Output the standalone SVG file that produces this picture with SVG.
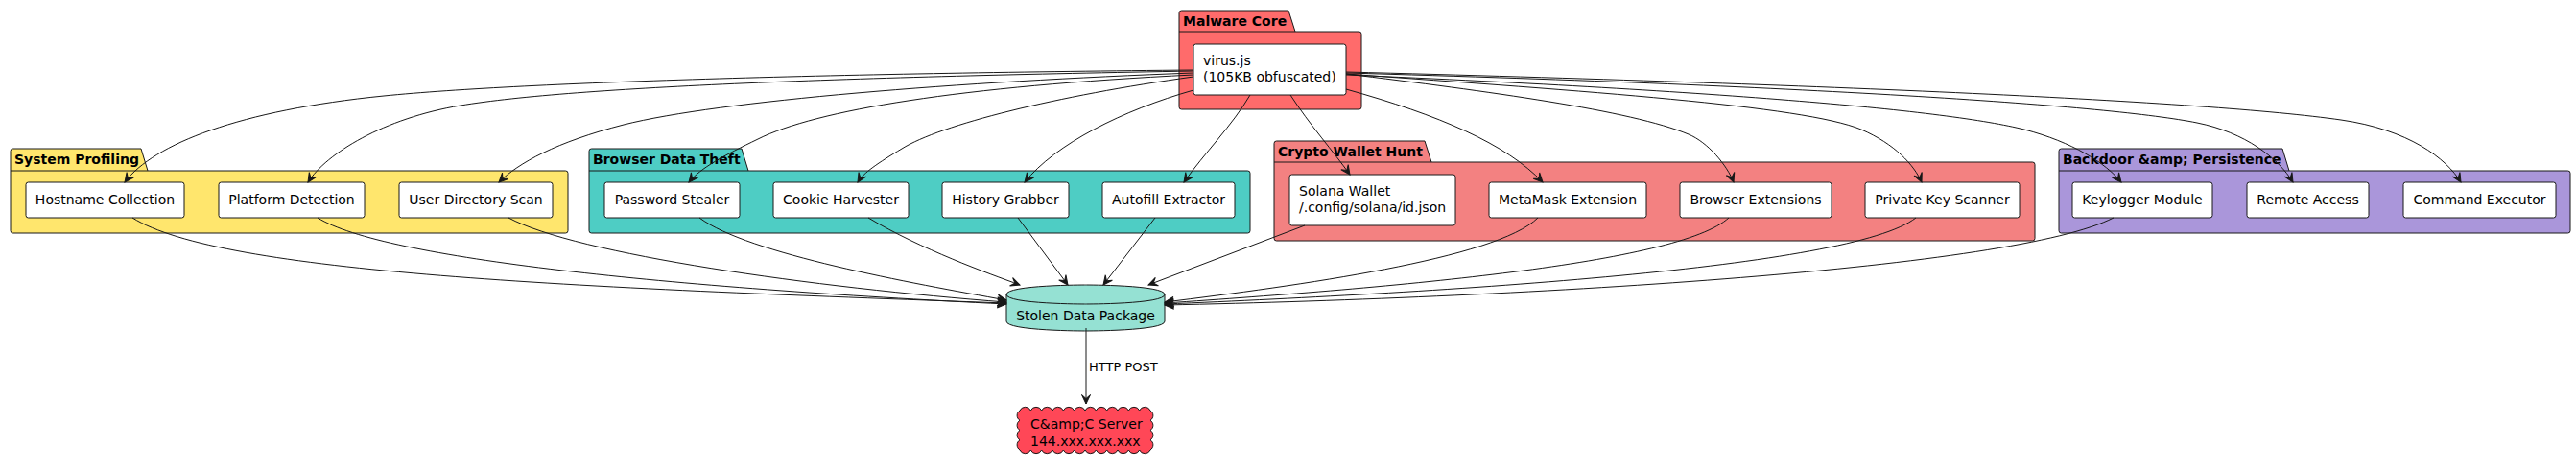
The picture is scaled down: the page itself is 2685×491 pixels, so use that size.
<svg xmlns="http://www.w3.org/2000/svg" width="2685" height="491" viewBox="0 0 2685 491">
<style>
text { font-family: "DejaVu Sans", "Liberation Sans", sans-serif; fill: #000000; }
.t { font-size: 14px; }
.c { text-anchor: middle; }
.pt { font-size: 14px; font-weight: bold; }
.lbl { font-size: 13px; }
.node { fill: #FFFFFF; stroke: #181818; stroke-width: 1; }
.pkg { stroke: #181818; stroke-width: 1; }
.sep { stroke: #181818; stroke-width: 1; }
.edge { fill: none; stroke: #181818; stroke-width: 1; marker-end: url(#ah); }
</style>
<defs>
<marker id="ah" viewBox="-11 -6 12 12" refX="0" refY="0" markerWidth="12" markerHeight="12" markerUnits="userSpaceOnUse" orient="auto" overflow="visible">
<path d="M0,0 L-9.5,-4.5 L-5.5,0 L-9.5,4.5 Z" fill="#181818" stroke="#181818" stroke-width="1"/>
</marker>
</defs>
<rect x="0" y="0" width="2685" height="491" fill="#FFFFFF"/>

<g id="pkg-malware-core">
<path class="pkg" fill="#FF6B6B" d="M1229,13.5 Q1229,11 1231.5,11 L1343,11 L1350,33 L1416.5,33 Q1419,33 1419,35.5 L1419,111.5 Q1419,114 1416.5,114 L1231.5,114 Q1229,114 1229,111.5 Z"/>
<line class="sep" x1="1229" y1="33" x2="1350" y2="33"/>
<text class="pt" x="1233" y="27">Malware Core</text>
</g>
<g id="node-virus">
<rect class="node" x="1244" y="46" width="159" height="53" rx="2.5"/>
<text class="t" x="1254" y="68">virus.js</text>
<text class="t" x="1254" y="84.5">(105KB obfuscated)</text>
</g>

<g id="pkg-system-profiling">
<path class="pkg" fill="#FFE66D" d="M11,157.5 Q11,155 13.5,155 L147,155 L154,178 L589.5,178 Q592,178 592,180.5 L592,240.5 Q592,243 589.5,243 L13.5,243 Q11,243 11,240.5 Z"/>
<line class="sep" x1="11" y1="178" x2="154" y2="178"/>
<text class="pt" x="15" y="171">System Profiling</text>
</g>
<g id="node-hostname">
<rect class="node" x="27" y="190" width="165" height="37" rx="2.5"/>
<text class="t c" x="109.5" y="213">Hostname Collection</text>
</g>
<g id="node-platform">
<rect class="node" x="228" y="190" width="152" height="37" rx="2.5"/>
<text class="t c" x="304" y="213">Platform Detection</text>
</g>
<g id="node-userdir">
<rect class="node" x="416" y="190" width="160" height="37" rx="2.5"/>
<text class="t c" x="496" y="213">User Directory Scan</text>
</g>

<g id="pkg-browser-data-theft">
<path class="pkg" fill="#4ECDC4" d="M614,157.5 Q614,155 616.5,155 L773,155 L780,178 L1300.5,178 Q1303,178 1303,180.5 L1303,240.5 Q1303,243 1300.5,243 L616.5,243 Q614,243 614,240.5 Z"/>
<line class="sep" x1="614" y1="178" x2="780" y2="178"/>
<text class="pt" x="618" y="171">Browser Data Theft</text>
</g>
<g id="node-password">
<rect class="node" x="630" y="190" width="141" height="37" rx="2.5"/>
<text class="t c" x="700.5" y="213">Password Stealer</text>
</g>
<g id="node-cookie">
<rect class="node" x="806" y="190" width="141" height="37" rx="2.5"/>
<text class="t c" x="876.5" y="213">Cookie Harvester</text>
</g>
<g id="node-history">
<rect class="node" x="982" y="190" width="132" height="37" rx="2.5"/>
<text class="t c" x="1048" y="213">History Grabber</text>
</g>
<g id="node-autofill">
<rect class="node" x="1149" y="190" width="138" height="37" rx="2.5"/>
<text class="t c" x="1218" y="213">Autofill Extractor</text>
</g>

<g id="pkg-crypto-wallet-hunt">
<path class="pkg" fill="#F38181" d="M1328,149.5 Q1328,147 1330.5,147 L1485,147 L1492,169 L2118.5,169 Q2121,169 2121,171.5 L2121,248.5 Q2121,251 2118.5,251 L1330.5,251 Q1328,251 1328,248.5 Z"/>
<line class="sep" x1="1328" y1="169" x2="1492" y2="169"/>
<text class="pt" x="1332" y="163">Crypto Wallet Hunt</text>
</g>
<g id="node-solana">
<rect class="node" x="1344" y="182" width="173" height="53" rx="2.5"/>
<text class="t" x="1354" y="204">Solana Wallet</text>
<text class="t" x="1354" y="220.5">/.config/solana/id.json</text>
</g>
<g id="node-metamask">
<rect class="node" x="1552" y="190" width="164" height="37" rx="2.5"/>
<text class="t c" x="1634" y="213">MetaMask Extension</text>
</g>
<g id="node-browserext">
<rect class="node" x="1751" y="190" width="158" height="37" rx="2.5"/>
<text class="t c" x="1830" y="213">Browser Extensions</text>
</g>
<g id="node-pks">
<rect class="node" x="1944" y="190" width="161" height="37" rx="2.5"/>
<text class="t c" x="2024.5" y="213">Private Key Scanner</text>
</g>

<g id="pkg-backdoor">
<path class="pkg" fill="#AA96DA" d="M2146,157.5 Q2146,155 2148.5,155 L2379,155 L2386,178 L2676.5,178 Q2679,178 2679,180.5 L2679,240.5 Q2679,243 2676.5,243 L2148.5,243 Q2146,243 2146,240.5 Z"/>
<line class="sep" x1="2146" y1="178" x2="2386" y2="178"/>
<text class="pt" x="2150" y="171">Backdoor &amp;amp; Persistence</text>
</g>
<g id="node-keylogger">
<rect class="node" x="2160" y="190" width="146" height="37" rx="2.5"/>
<text class="t c" x="2233" y="213">Keylogger Module</text>
</g>
<g id="node-remote">
<rect class="node" x="2342" y="190" width="127" height="37" rx="2.5"/>
<text class="t c" x="2405.5" y="213">Remote Access</text>
</g>
<g id="node-command">
<rect class="node" x="2505" y="190" width="159" height="37" rx="2.5"/>
<text class="t c" x="2584.5" y="213">Command Executor</text>
</g>

<g id="node-stolen-data">
<path fill="#95E1D3" stroke="#181818" stroke-width="1" d="M1049,307 C1049,297 1131.5,297 1131.5,297 C1131.5,297 1214,297 1214,307 L1214,335 C1214,345 1131.5,345 1131.5,345 C1131.5,345 1049,345 1049,335 L1049,307 Z"/>
<path fill="none" stroke="#181818" stroke-width="1" d="M1049,307 C1049,317 1131.5,317 1131.5,317 C1131.5,317 1214,317 1214,307"/>
<text class="t c" x="1131.5" y="334">Stolen Data Package</text>
</g>

<g id="node-cc-server">
<path fill="#FF4757" stroke="#181818" stroke-width="1" d="M1063,428 a6.2,6.2 0 0 1 11.333,0 a6.2,6.2 0 0 1 11.333,0 a6.2,6.2 0 0 1 11.333,0 a6.2,6.2 0 0 1 11.333,0 a6.2,6.2 0 0 1 11.333,0 a6.2,6.2 0 0 1 11.333,0 a6.2,6.2 0 0 1 11.333,0 a6.2,6.2 0 0 1 11.333,0 a6.2,6.2 0 0 1 11.333,0 a6.2,6.2 0 0 1 11.333,0 a6.2,6.2 0 0 1 11.333,0 a6.2,6.2 0 0 1 11.334,0 a6,6 0 0 1 0,10.25 a6,6 0 0 1 0,10.25 a6,6 0 0 1 0,10.25 a6,6 0 0 1 0,10.25 a6.2,6.2 0 0 1 -11.333,0 a6.2,6.2 0 0 1 -11.333,0 a6.2,6.2 0 0 1 -11.333,0 a6.2,6.2 0 0 1 -11.333,0 a6.2,6.2 0 0 1 -11.333,0 a6.2,6.2 0 0 1 -11.333,0 a6.2,6.2 0 0 1 -11.333,0 a6.2,6.2 0 0 1 -11.333,0 a6.2,6.2 0 0 1 -11.333,0 a6.2,6.2 0 0 1 -11.333,0 a6.2,6.2 0 0 1 -11.333,0 a6.2,6.2 0 0 1 -11.334,0 a6,6 0 0 1 0,-10.25 a6,6 0 0 1 0,-10.25 a6,6 0 0 1 0,-10.25 a6,6 0 0 1 0,-10.25 Z"/>
<text class="t" x="1074" y="447">C&amp;amp;C Server</text>
<text class="t" x="1074" y="465">144.xxx.xxx.xxx</text>
</g>

<g id="connectors">
<path class="edge" d="M1244,73 C900,76 550,85 400,100 C250,115 160,150 130,190"/>
<path class="edge" d="M1244,74 C900,80 600,90 480,110 C400,123.3 340,160 321,190"/>
<path class="edge" d="M1244,76 C1000,85 750,105 650,130 C580,148 540,170 520,190"/>
<path class="edge" d="M1244,78 C1000,90 850,115 790,145 C755,162 730,175 718,190"/>
<path class="edge" d="M1244,80 C1100,100 980,130 940,155 C915,170 900,180 894,190"/>
<path class="edge" d="M1244,94 C1170,115 1100,150 1068,190"/>
<path class="edge" d="M1303,99 C1285,130 1255,160 1234,190"/>
<path class="edge" d="M1345,99 C1365,130 1390,158 1407,182"/>
<path class="edge" d="M1403,93 C1500,120 1570,150 1608,190"/>
<path class="edge" d="M1403,77 C1550,95 1700,115 1760,140 C1780,148.3 1800,172 1807,190"/>
<path class="edge" d="M1403,77 C1650,95 1880,110 1940,135 C1975,150 1995,172 2003,190"/>
<path class="edge" d="M1403,78 C1800,95 2030,115 2110,135 C2160,148 2195,170 2211,190"/>
<path class="edge" d="M1403,76 C1900,90 2200,110 2290,128 C2340,138 2375,165 2390,190"/>
<path class="edge" d="M1403,75 C1900,88 2300,105 2440,125 C2510,135 2550,165 2565,190"/>
<path class="edge" d="M138,227 C230,285 600,300 1049,316"/>
<path class="edge" d="M331,227 C400,270 700,300 1049,317"/>
<path class="edge" d="M530,227 C600,265 850,300 1049,315"/>
<path class="edge" d="M729,227 C780,265 950,295 1049,313"/>
<path class="edge" d="M905,227 C960,260 1030,285 1063,297"/>
<path class="edge" d="M1061,227 L1113,297"/>
<path class="edge" d="M1204,227 L1150,297"/>
<path class="edge" d="M1360,235 L1197,297"/>
<path class="edge" d="M1603,227 C1560,270 1350,298 1214,315"/>
<path class="edge" d="M1802,227 C1750,275 1450,300 1214,316"/>
<path class="edge" d="M1997,227 C1930,280 1500,305 1214,317"/>
<path class="edge" d="M2203,227 C2100,280 1600,310 1214,318"/>
<path class="edge" d="M1132,342 L1132,421"/>
<text class="lbl" x="1135" y="387">HTTP POST</text>
</g>
</svg>
